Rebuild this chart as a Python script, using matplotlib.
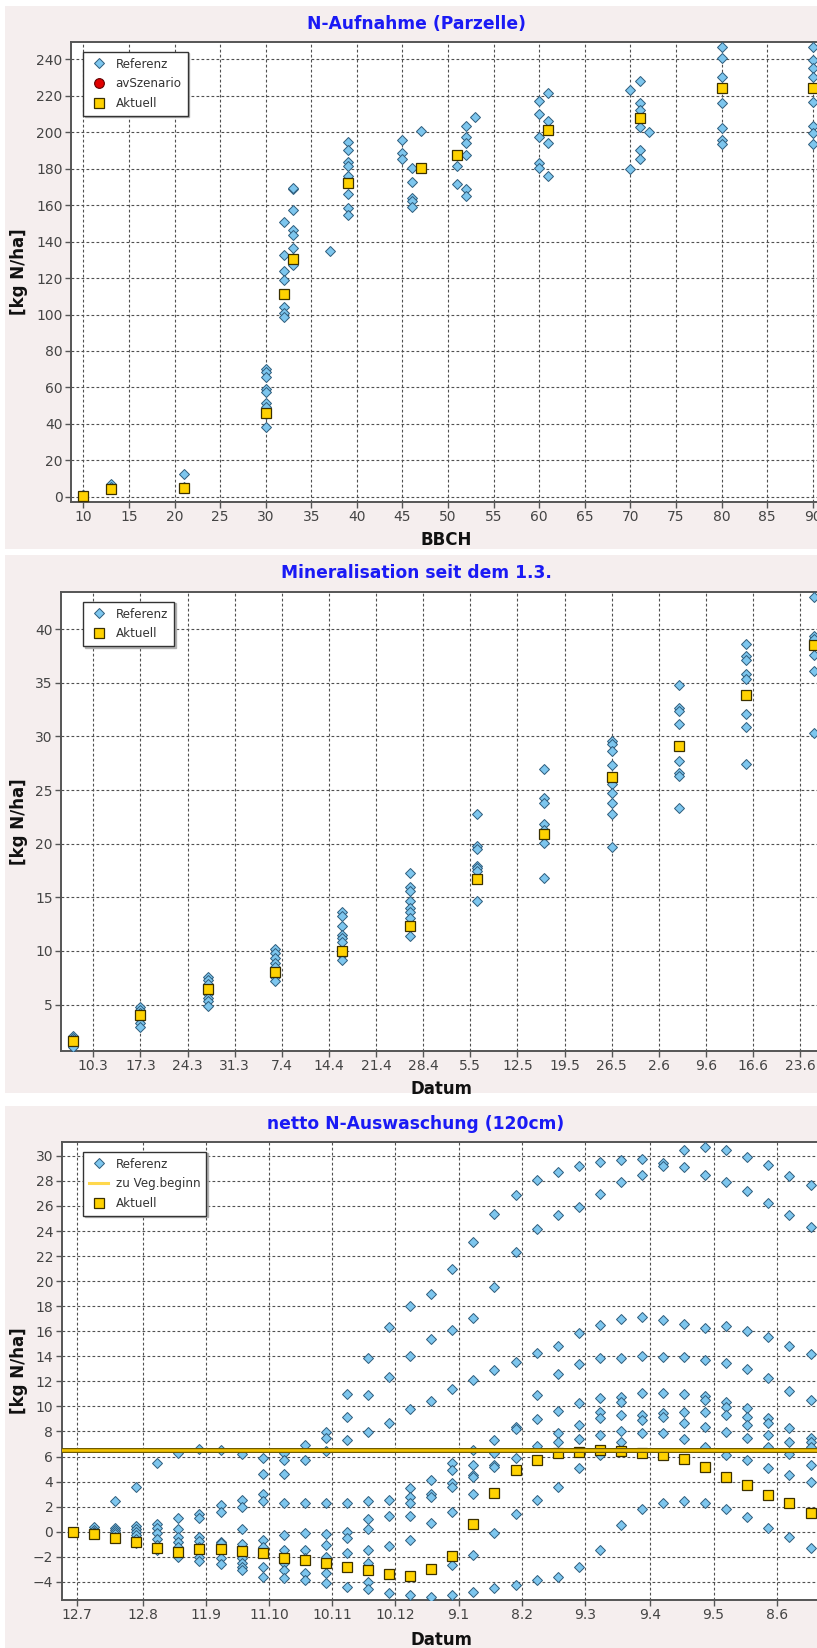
import datetime as dt
import matplotlib
matplotlib.use("Agg")
import matplotlib.pyplot as plt
import matplotlib.dates as mdates
from matplotlib.lines import Line2D
from matplotlib.patches import Rectangle
from matplotlib.ticker import FuncFormatter

# ---------------- data: N-Aufnahme (Parzelle) ----------------
ref_bbch = [10, 13, 21, 30, 32, 33, 37, 39, 45, 46, 47, 51, 52, 53, 60, 61, 70, 71, 72, 80, 90]
ref_uptake = [
    [0.5, 0.8, 1.0],
    [6.8, 5.5, 4.5],
    [12.3, 5.5],
    [69.9, 68.5, 65.8, 58.9, 57.5, 51.6, 49.4, 45.5, 38.4],
    [150.9, 132.6, 123.8, 118.9, 111.5, 103.9, 100.6, 98.8],
    [168.8, 169.5, 157.3, 146.3, 143.5, 136.3, 131.0, 127.1],
    [135.0],
    [194.8, 190.2, 183.8, 181.5, 176.0, 165.9, 158.6, 154.6],
    [195.7, 188.4, 185.1],
    [180.5, 172.9, 164.0, 162.0, 159.1],
    [200.7],
    [181.6, 171.4, 187.5],
    [203.6, 197.5, 193.9, 187.5, 168.8, 165.0],
    [208.2],
    [217.1, 210.0, 197.5, 183.3, 180.2],
    [221.7, 206.1, 201.2, 193.9, 175.9],
    [223.1, 179.8],
    [228.3, 215.9, 212.2, 207.6, 203.0, 190.2, 185.1],
    [199.9],
    [246.9, 240.5, 230.1, 224.1, 215.9, 202.1, 195.7, 193.5],
    [246.9, 239.6, 235.1, 230.5, 224.4, 216.7, 203.4, 199.4, 193.4],
]
act_bbch = [10, 13, 21, 30, 32, 33, 39, 47, 51, 61, 71, 80, 90]
act_uptake = [0.5, 4.0, 4.9, 45.8, 111.0, 130.3, 172.3, 180.5, 187.5, 201.2, 207.6, 224.1, 224.4]

# ---------------- data: Mineralisation seit dem 1.3. ----------------
min_dates = ["2016-03-07", "2016-03-17", "2016-03-27", "2016-04-06", "2016-04-16", "2016-04-26",
             "2016-05-06", "2016-05-16", "2016-05-26", "2016-06-05", "2016-06-15", "2016-06-25"]
min_ref = [
    [2.1, 1.9, 1.7, 1.5, 1.3, 1.1, 1.0],
    [4.8, 4.5, 4.2, 3.7, 3.3, 2.9],
    [7.6, 7.3, 6.9, 6.0, 5.6, 5.3, 4.9],
    [10.2, 9.8, 9.3, 8.9, 8.5, 7.6, 7.2],
    [13.6, 13.3, 12.3, 11.5, 11.2, 10.8, 9.6, 9.2],
    [17.3, 16.0, 15.6, 14.7, 14.0, 13.6, 13.1, 11.4],
    [22.8, 19.8, 19.5, 17.9, 17.7, 17.5, 14.7],
    [27.0, 24.3, 23.8, 21.8, 21.3, 20.6, 20.1, 16.8],
    [29.6, 29.3, 28.6, 27.3, 25.6, 24.7, 23.8, 22.8, 19.7],
    [34.8, 32.7, 32.4, 31.2, 27.7, 26.6, 26.3, 23.3],
    [38.6, 37.5, 37.1, 35.8, 35.4, 32.1, 30.9, 27.4],
    [43.0, 39.4, 39.1, 37.6, 36.1, 30.3],
]
min_act = [1.63, 4.04, 6.44, 8.03, 10.02, 12.3, 16.7, 20.9, 26.24, 29.08, 33.9, 38.5]
min_tick_start = "2016-03-10"

# ---------------- data: netto N-Auswaschung (120cm) ----------------
leach_start = "2015-07-10"
leach_ref = [
    [0.0, 0.0, 0.0],
    [0.4, 0.1, 0.0, -0.1, -0.2],
    [2.45, 0.3, 0.1, 0.0, -0.2, -0.4],
    [3.6, 0.45, 0.2, 0.0, -0.3, -0.6, -0.9],
    [5.45, 0.6, 0.27, -0.13, -0.6, -1.06, -1.46],
    [6.3, 1.06, 0.19, -0.4, -0.8, -1.2, -2.0],
    [6.6, 1.4, 1.06, -0.4, -0.72, -1.2, -2.05, -2.3],
    [6.5, 2.13, 1.6, -0.8, -0.93, -2.13, -2.6],
    [6.2, 2.53, 2.0, 0.19, -1.0, -2.13, -2.47, -2.8, -3.06],
    [5.85, 4.6, 3.0, 2.45, -0.66, -1.2, -2.85, -3.6],
    [6.3, 5.7, 4.6, 2.3, -0.27, -1.46, -2.53, -3.06, -3.72],
    [6.9, 5.7, 2.3, -0.13, -1.46, -2.13, -3.3, -3.86],
    [7.98, 7.45, 6.46, 2.26, -0.19, -1.06, -2.0, -3.27, -4.12],
    [10.98, 9.18, 7.31, 2.3, -0.05, -0.53, -1.68, -4.39],
    [13.84, 10.9, 7.93, 2.45, 0.98, 0.19, -1.46, -2.47, -3.99, -4.6],
    [16.36, 12.31, 8.7, 2.53, 1.28, -1.14, -4.92],
    [18.0, 14.05, 9.76, 3.46, 2.8, 2.3, 1.28, -0.66, -5.08],
    [18.95, 15.35, 10.45, 4.12, 3.0, 2.8, 0.66, -5.19],
    [20.97, 16.1, 11.36, 5.5, 4.92, 3.9, 3.54, 1.6, -2.66, -5.05],
    [23.1, 17.08, 12.1, 6.5, 5.32, 4.52, 4.34, 3.0, -1.86, -4.79],
    [25.35, 19.5, 12.9, 7.31, 6.25, 5.32, 5.13, -0.13, -4.52],
    [26.9, 22.3, 13.57, 8.32, 8.16, 5.85, 1.41, -4.26],
    [28.07, 24.2, 14.24, 10.9, 8.96, 6.84, 2.53, -3.86],
    [28.7, 25.27, 14.82, 12.58, 9.65, 7.9, 7.2, 3.6, -3.59],
    [29.2, 25.94, 15.83, 13.38, 10.24, 8.51, 7.37, 5.05, -2.79],
    [29.5, 26.93, 16.5, 13.84, 10.64, 9.57, 9.04, 7.71, 6.5, 6.12, -1.46],
    [29.67, 27.9, 16.97, 13.89, 10.77, 10.37, 9.31, 8.03, 7.18, 0.53],
    [29.72, 28.5, 17.1, 14.05, 11.04, 9.31, 8.91, 7.9, 1.78],
    [29.4, 29.2, 16.9, 13.97, 11.09, 9.44, 9.18, 7.85, 2.26],
    [30.46, 29.08, 16.58, 13.97, 10.98, 9.57, 8.7, 7.37, 2.45],
    [30.7, 28.47, 16.28, 13.7, 10.82, 10.5, 9.57, 8.32, 6.78, 2.3],
    [30.46, 27.9, 16.4, 13.44, 10.37, 9.92, 9.31, 7.98, 6.12, 1.78],
    [29.88, 27.2, 16.04, 12.96, 9.84, 9.18, 8.51, 7.45, 5.72, 1.14],
    [29.27, 26.26, 15.56, 12.24, 9.04, 8.64, 7.71, 6.78, 5.05, 0.27],
    [28.4, 25.27, 14.82, 11.25, 8.24, 7.18, 6.2, 4.52, -0.45],
    [27.67, 24.3, 14.17, 10.5, 7.45, 7.18, 6.73, 5.32, 3.99, -1.33],
]
leach_act = [0.0, -0.19, -0.53, -0.8, -1.28, -1.6, -1.41, -1.41, -1.52, -1.68, -2.07, -2.26,
             -2.47, -2.79, -3.06, -3.4, -3.51, -3.0, -1.91, 0.59, 3.06, 4.9, 5.75, 6.28,
             6.4, 6.5, 6.45, 6.3, 6.12, 5.77, 5.19, 4.39, 3.72, 2.93, 2.26, 1.46]
veg_begin = 6.5
leach_ticks = ["2015-07-12", "2015-08-12", "2015-09-11", "2015-10-11", "2015-11-10", "2015-12-10",
               "2016-01-09", "2016-02-08", "2016-03-09", "2016-04-09", "2016-05-09", "2016-06-08"]

# ---------------- styling ----------------
W, H, DPI = 817, 1648, 100
PANEL_BG = "#F5EEEE"
TITLE_COL = "#1A1AF5"
REF_FACE, REF_EDGE = "#7DC6EE", "#2E5C7C"
ACT_FACE, ACT_EDGE = "#FFD200", "#3B3000"
GRID_COL = "#505050"
TICK_COL = "#444444"

plt.rcParams["font.family"] = ["DejaVu Sans"]

fig = plt.figure(figsize=(W / DPI, H / DPI), dpi=DPI, facecolor="white")


def fy(py):
    return 1 - py / H


def px_axes(left, top, right, bottom):
    return fig.add_axes([left / W, 1 - bottom / H, (right - left) / W, (bottom - top) / H])


def panel_bg(top, bottom):
    fig.patches.append(Rectangle((5 / W, fy(bottom)), 1, (bottom - top) / H,
                                 transform=fig.transFigure, facecolor=PANEL_BG,
                                 edgecolor="none", zorder=-10))


def style(ax):
    ax.set_facecolor("white")
    ax.grid(True, color=GRID_COL, linestyle=(0, (2.5, 2)), linewidth=0.8)
    ax.set_axisbelow(True)
    for s in ax.spines.values():
        s.set_color("#555555")
        s.set_linewidth(1.4)
    ax.tick_params(direction="out", length=4, width=1, color="#555555",
                   labelcolor=TICK_COL, labelsize=10, pad=2)


def ref_plot(ax, xs, groups, **kw):
    px, py = [], []
    for x, vals in zip(xs, groups):
        for v in vals:
            px.append(x)
            py.append(v)
    ax.plot(px, py, ls="none", marker="D", ms=4.8, mfc=REF_FACE, mec=REF_EDGE,
            mew=0.7, zorder=3, **kw)


def act_plot(ax, xs, ys):
    ax.plot(xs, ys, ls="none", marker="s", ms=7.2, mfc=ACT_FACE, mec=ACT_EDGE,
            mew=0.9, zorder=5)


def legend(ax, handles, labels, x_px, y_px, ax_box):
    l, t, r, b = ax_box
    leg = ax.legend(handles, labels, loc="upper left",
                    bbox_to_anchor=((x_px - l) / (r - l), 1 - (y_px - t) / (b - t)),
                    borderaxespad=0, fontsize=8.6, frameon=True, fancybox=False,
                    framealpha=1, edgecolor="#333333", handlelength=1.6,
                    handletextpad=0.6, borderpad=0.5, labelspacing=0.55,
                    shadow={"ox": 1.2, "oy": -1.2, "color": "0.65", "alpha": 0.8})
    leg.get_frame().set_linewidth(1.0)
    for t in leg.get_texts():
        t.set_color("#333333")
    leg.set_zorder(10)


ref_handle = Line2D([], [], ls="none", marker="D", ms=4.8, mfc=REF_FACE, mec=REF_EDGE, mew=0.7)
act_handle = Line2D([], [], ls="none", marker="s", ms=7.2, mfc=ACT_FACE, mec=ACT_EDGE, mew=0.9)
av_handle = Line2D([], [], ls="none", marker="o", ms=7, mfc="#E00000", mec="#600000", mew=0.8)
veg_handle = Line2D([], [], color="#FFD84D", lw=2.2)

day_month = FuncFormatter(lambda v, pos: "{0.day}.{0.month}".format(mdates.num2date(v)))

# ---------------- panel 1 ----------------
panel_bg(6, 549)
box1 = (71, 42, 821, 501.7)
ax1 = px_axes(*box1)
style(ax1)
ref_plot(ax1, ref_bbch, ref_uptake)
act_plot(ax1, act_bbch, act_uptake)
ax1.set_xlim(8.65, 90.89)
ax1.set_ylim(-2.7, 249.5)
ax1.set_xticks(range(10, 95, 5))
ax1.set_yticks(range(0, 241, 20))
legend(ax1, [ref_handle, av_handle, act_handle], ["Referenz", "avSzenario", "Aktuell"],
       83.3, 51.7, box1)
fig.text(416.5 / W, fy(24), "N-Aufnahme (Parzelle)", ha="center", va="center",
         fontsize=12.3, fontweight="bold", color=TITLE_COL)
fig.text(446 / W, fy(540), "BBCH", ha="center", va="center", fontsize=12,
         fontweight="bold", color="#111111")
fig.text(19 / W, fy((box1[1] + box1[3]) / 2), "[kg N/ha]", ha="center", va="center",
         rotation=90, fontsize=12, fontweight="bold", color="#111111")

# ---------------- panel 2 ----------------
panel_bg(555, 1093)
box2 = (61, 591.7, 821, 1051)
ax2 = px_axes(*box2)
style(ax2)
m_dates = [mdates.datestr2num(d) for d in min_dates]
ref_plot(ax2, m_dates, min_ref)
act_plot(ax2, m_dates, min_act)
t0 = mdates.datestr2num(min_tick_start)
ax2.set_xlim(t0 - 4.8, t0 + 108.1)
ax2.set_ylim(0.67, 43.5)
ax2.set_xticks([t0 + 7 * k for k in range(16)])
ax2.xaxis.set_major_formatter(day_month)
ax2.set_yticks(range(5, 41, 5))
legend(ax2, [ref_handle, act_handle], ["Referenz", "Aktuell"], 83.3, 601.7, box2)
fig.text(416 / W, fy(573.3), "Mineralisation seit dem 1.3.", ha="center", va="center",
         fontsize=12.3, fontweight="bold", color=TITLE_COL)
fig.text(441 / W, fy(1089), "Datum", ha="center", va="center", fontsize=12,
         fontweight="bold", color="#111111")
fig.text(19 / W, fy((box2[1] + box2[3]) / 2), "[kg N/ha]", ha="center", va="center",
         rotation=90, fontsize=12, fontweight="bold", color="#111111")

# ---------------- panel 3 ----------------
panel_bg(1106, 1648)
box3 = (61.7, 1142.3, 821, 1600)
ax3 = px_axes(*box3)
style(ax3)
d0 = mdates.datestr2num(leach_start)
l_dates = [d0 + 10 * k for k in range(len(leach_act))]
ref_plot(ax3, l_dates, leach_ref)
act_plot(ax3, l_dates, leach_act)
ax3.axhline(veg_begin, color="#6E5A00", lw=3.6, zorder=6)
ax3.axhline(veg_begin, color="#F2C200", lw=1.9, zorder=7)
tk = [mdates.datestr2num(d) for d in leach_ticks]
ax3.set_xlim(tk[0] - 7.4, tk[0] + 352.97)
ax3.set_ylim(-5.45, 31.08)
ax3.set_xticks(tk)
ax3.xaxis.set_major_formatter(day_month)
ax3.set_yticks(range(-4, 31, 2))
legend(ax3, [ref_handle, veg_handle, act_handle], ["Referenz", "zu Veg.beginn", "Aktuell"],
       83.3, 1151.7, box3)
fig.text(416 / W, fy(1124), "netto N-Auswaschung (120cm)", ha="center", va="center",
         fontsize=12.3, fontweight="bold", color=TITLE_COL)
fig.text(441 / W, fy(1640), "Datum", ha="center", va="center", fontsize=12,
         fontweight="bold", color="#111111")
fig.text(19 / W, fy((box3[1] + box3[3]) / 2), "[kg N/ha]", ha="center", va="center",
         rotation=90, fontsize=12, fontweight="bold", color="#111111")

fig.savefig("out.png", dpi=DPI, facecolor="white")
